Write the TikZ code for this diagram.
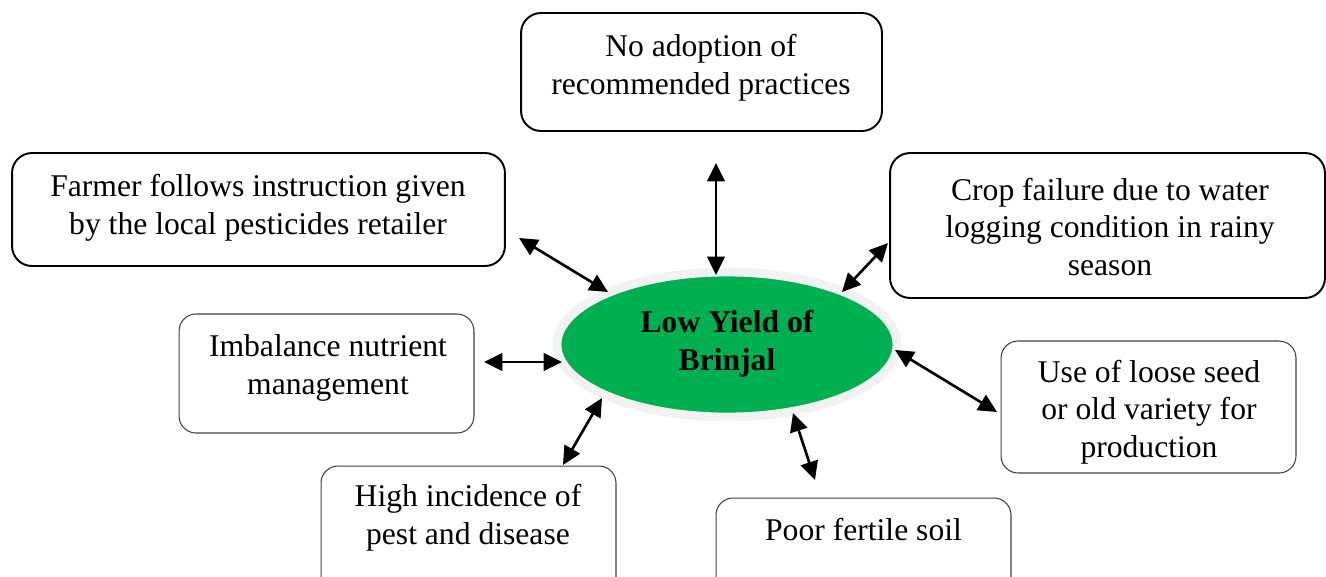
\documentclass[tikz,border=0pt]{standalone}
\usepackage{fontspec}
\setmainfont{Liberation Serif}
\usetikzlibrary{shapes.geometric,arrows.meta}
\definecolor{leafgreen}{HTML}{00B050}
\definecolor{rimgray}{HTML}{F2F2F2}
\begin{document}
\begin{tikzpicture}[x=0.02cm,y=-0.02cm]
        \tikzstyle{cause}=[draw, line width=1.1pt, rounded corners=0.4cm, inner sep=0pt]
        \tikzstyle{causethin}=[draw=black!75, line width=0.6pt, rounded corners=0.34cm, inner sep=0pt]
        \tikzstyle{txt}=[align=center, inner sep=0pt, font=\fontsize{18}{21.5}\selectfont]
        \tikzstyle{link}=[{Triangle[length=10.5pt,width=10pt]}-{Triangle[length=10.5pt,width=10pt]}, line width=1.5pt]
        \clip (0,0) rectangle (1326,576);
        % centre
        \node[ellipse, fill=leafgreen, draw=rimgray, line width=5pt, inner sep=0pt,
              minimum width=6.8cm, minimum height=2.9cm] (core) at (727,344.5) {};
        \node[txt, font=\fontsize{18}{21.5}\selectfont\bfseries] (core-t) at (727,344) {Low Yield of\\Brinjal};
        % causes
        \node[cause, minimum width=7.22cm, minimum height=2.36cm] (adopt) at (701.5,72) {};
        \node[txt] (adopt-t) at (701,68) {No adoption of\\recommended practices};
        \node[cause, minimum width=9.86cm, minimum height=2.26cm] (retail) at (258.5,209.5) {};
        \node[txt] (retail-t) at (258,208) {Farmer follows instruction given\\by the local pesticides retailer};
        \node[cause, minimum width=8.7cm, minimum height=2.9cm] (crop) at (1107.5,225.5) {};
        \node[txt] (crop-t) at (1110,227) {Crop failure due to water\\logging condition in rainy\\season};
        \node[causethin, minimum width=5.9cm, minimum height=2.38cm] (nutrient) at (326.5,373.5) {};
        \node[txt] (nutrient-t) at (328,368) {Imbalance nutrient\\management};
        \node[causethin, minimum width=5.9cm, minimum height=2.64cm] (seed) at (1148.5,407) {};
        \node[txt] (seed-t) at (1149,412) {Use of loose seed\\or old variety for\\production};
        \node[causethin, minimum width=5.9cm, minimum height=3.2cm] (pest) at (468.5,546) {};
        \node[txt] (pest-t) at (468,518) {High incidence of\\pest and disease};
        \node[causethin, minimum width=5.9cm, minimum height=3.2cm] (soil) at (863.5,578) {};
        \node[txt] (soil-t) at (863.5,530) {Poor fertile soil};
        % arrow ends
        \coordinate (a1) at (716,163);  \coordinate (b1) at (716,275);
        \coordinate (a2) at (519,238);  \coordinate (b2) at (608,292);
        \coordinate (a3) at (888,243);  \coordinate (b3) at (842,292);
        \coordinate (a4) at (484,362);  \coordinate (b4) at (562,362);
        \coordinate (a5) at (997,412);  \coordinate (b5) at (895,350);
        \coordinate (a6) at (563,465);  \coordinate (b6) at (602,398);
        \coordinate (a7) at (815,480);  \coordinate (b7) at (793,413);
        \foreach \i in {1,...,7}
          \draw[link] (a\i) -- (b\i);
\end{tikzpicture}
\end{document}
